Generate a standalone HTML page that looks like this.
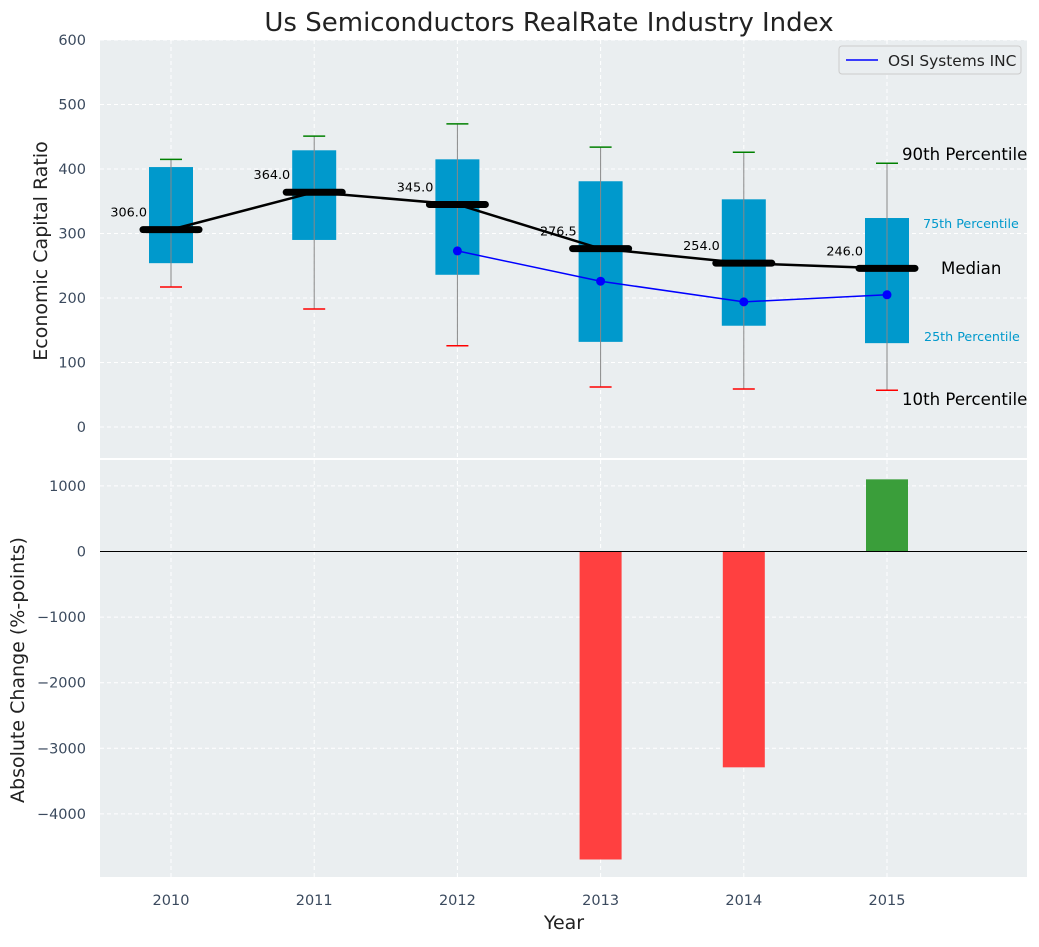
<!DOCTYPE html>
<html><head><meta charset="utf-8"><style>
body{margin:0;background:#fff;}
svg text{font-family:"DejaVu Sans","Liberation Sans",sans-serif;}
</style></head><body>
<svg id="chart" width="1039" height="942" xmlns="http://www.w3.org/2000/svg">
<text x="549" y="31" text-anchor="middle" font-size="26" fill="#222">Us Semiconductors RealRate Industry Index</text>
<rect x="100" y="40" width="927" height="418" fill="#eaeef0"/>
<rect x="100" y="460" width="927" height="417" fill="#eaeef0"/>
<g id="grid"></g>
<g id="marks"></g>
<g id="axes"></g>
<text transform="translate(47,251) rotate(-90)" text-anchor="middle" font-size="19" fill="#222">Economic Capital Ratio</text>
<text transform="translate(24,670) rotate(-90)" text-anchor="middle" font-size="19" fill="#222">Absolute Change (%-points)</text>
<text x="564" y="929" text-anchor="middle" font-size="19" fill="#222">Year</text>
<g>
<rect x="839" y="46" width="182" height="28" rx="3" fill="#eaeef0" stroke="#ccc"/>
<line x1="846" y1="60" x2="878" y2="60" stroke="#0000ff" stroke-width="1.5"/>
<text x="888" y="66" font-size="15.4" fill="#222">OSI Systems INC</text>
</g>
<text x="902" y="160" font-size="16.6" fill="#000">90th Percentile</text>
<text x="923" y="228" font-size="12.7" fill="#0099cc">75th Percentile</text>
<text x="941" y="274" font-size="16.6" fill="#000">Median</text>
<text x="924" y="341" font-size="12.7" fill="#0099cc">25th Percentile</text>
<text x="902" y="405" font-size="16.6" fill="#000">10th Percentile</text>
</svg>
<script>
const years=[2010,2011,2012,2013,2014,2015];
const p10=[217,183,126,62,59,57];
const q1=[254,290,236,132,157,130];
const medians=[306,364,345,276.5,254,246];
const q3=[403,429,415,381,353,324];
const p90=[415,451,470,434,426,409];
const osiYears=[2012,2013,2014,2015];
const osiValues=[273,226,194,205];
const changeYears=[2013,2014,2015];
const changeValues=[-4695,-3290,1100];
const topTicks=[0,100,200,300,400,500,600];
const bottomTicks=[-4000,-3000,-2000,-1000,0,1000];

const NS="http://www.w3.org/2000/svg";
const X=y=>171+(y-2010)*143.2;
const YT=v=>427-v*0.645;
const YB=v=>551.5-v*0.0656;
function mk(p,t,a){const e=document.createElementNS(NS,t);for(const k in a)e.setAttribute(k,a[k]);p.appendChild(e);return e;}
const grid=document.getElementById('grid'),marks=document.getElementById('marks'),axes=document.getElementById('axes');
topTicks.forEach(t=>{const l=mk(grid,'line',{x1:100,x2:1027,y1:YT(t),y2:YT(t),stroke:'#fff','stroke-dasharray':'4,3'});

const tx=mk(axes,'text',{x:86,y:YT(t)+5,'text-anchor':'end','font-size':14.5,fill:'#3b4a5e'});tx.textContent=t;
});
bottomTicks.forEach(t=>{const l=mk(grid,'line',{x1:100,x2:1027,y1:YB(t),y2:YB(t),stroke:'#fff','stroke-dasharray':'4,3'});

const tx=mk(axes,'text',{x:86,y:YB(t)+5,'text-anchor':'end','font-size':14.5,fill:'#3b4a5e'});tx.textContent=(t<0?'\u2212'+(-t):t);
});
years.forEach(y=>{[[40,458],[460,877]].forEach(r=>{const l=mk(grid,'line',{x1:X(y),x2:X(y),y1:r[0],y2:r[1],stroke:'#fff','stroke-dasharray':'4,3'});
});
const tx=mk(axes,'text',{x:X(y),y:905,'text-anchor':'middle','font-size':14.5,fill:'#3b4a5e'});tx.textContent=y;
});
years.forEach((y,i)=>{const x=X(y);
const b=mk(marks,'rect',{x:x-22,y:YT(q3[i]),width:44,height:YT(q1[i])-YT(q3[i]),fill:'#0099cc'});

const w=mk(marks,'line',{x1:x,x2:x,y1:YT(p10[i]),y2:YT(p90[i]),stroke:'#888','stroke-width':1});

const c1=mk(marks,'line',{x1:x-11,x2:x+11,y1:YT(p90[i]),y2:YT(p90[i]),stroke:'green','stroke-width':1.5});

const c2=mk(marks,'line',{x1:x-11,x2:x+11,y1:YT(p10[i]),y2:YT(p10[i]),stroke:'red','stroke-width':1.5});
});
const ml=mk(marks,'polyline',{points:years.map((y,i)=>X(y)+','+YT(medians[i])).join(' '),fill:'none',stroke:'#000','stroke-width':2.5});

years.forEach((y,i)=>{const x=X(y);
const m=mk(marks,'line',{x1:x-28,x2:x+28,y1:YT(medians[i]),y2:YT(medians[i]),stroke:'#000','stroke-width':7,'stroke-linecap':'round'});

const t=mk(marks,'text',{x:x-24,y:YT(medians[i])-13,'text-anchor':'end','font-size':12.8,fill:'#000'});t.textContent=medians[i].toFixed(1);
});
const ol=mk(marks,'polyline',{points:osiYears.map((y,i)=>X(y)+','+YT(osiValues[i])).join(' '),fill:'none',stroke:'#0000ff','stroke-width':1.5});

osiYears.forEach((y,i)=>{const c=mk(marks,'circle',{cx:X(y),cy:YT(osiValues[i]),r:4.5,fill:'#0000ff'});
});
changeYears.forEach((y,i)=>{const v=changeValues[i];const y0=YB(Math.max(v,0)),y1=YB(Math.min(v,0));
const b=mk(marks,'rect',{x:X(y)-21,y:y0,width:42,height:y1-y0,fill:v<0?'#ff4040':'#3a9e3a'});
});
const z=mk(marks,'line',{x1:100,x2:1027,y1:YB(0),y2:YB(0),stroke:'#000','stroke-width':1});

</script>
</body></html>
